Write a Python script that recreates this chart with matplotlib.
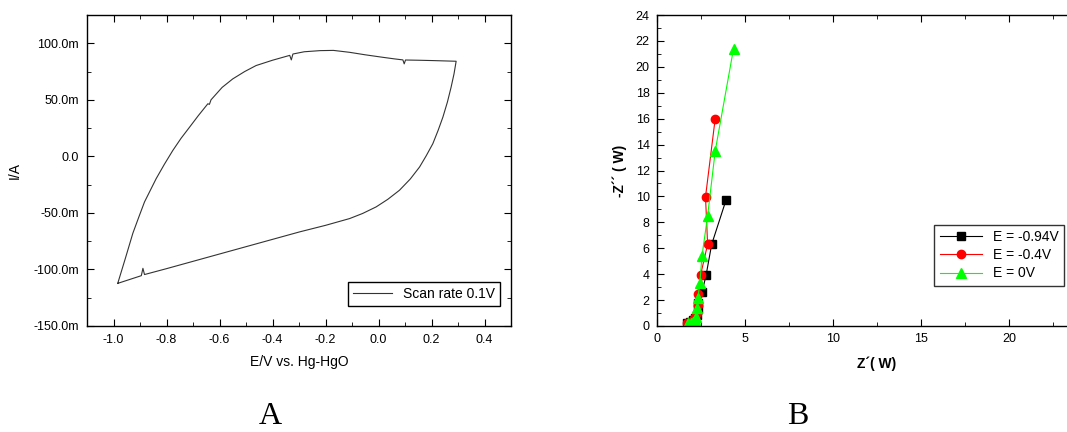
#!/usr/bin/env python3
"""
Cyclic voltammogram (A) and Nyquist plot (B), side by side.
"""

import matplotlib
matplotlib.use('Agg')
import matplotlib.pyplot as plt
from matplotlib.ticker import MultipleLocator, FixedLocator, FuncFormatter

# --- Panel A: CV loop (E in V, I in A) ---
cv_e = [-0.984, -0.955, -0.927, -0.905, -0.883, -0.861, -0.839, -0.808, -0.776,
        -0.745, -0.713, -0.680, -0.644, -0.638, -0.632, -0.590, -0.550, -0.505,
        -0.462, -0.400, -0.335, -0.329, -0.323, -0.280, -0.220, -0.170, -0.109,
        -0.050, 0.016, 0.060, 0.092, 0.097, 0.102, 0.150, 0.205, 0.293,
        0.285, 0.274, 0.260, 0.243, 0.225, 0.205, 0.180, 0.155, 0.120, 0.079,
        0.035, -0.009, -0.060, -0.109, -0.200, -0.298, -0.550, -0.800,
        -0.883, -0.889, -0.895, -0.984]
cv_i = [-0.1123, -0.090, -0.068, -0.054, -0.0403, -0.030, -0.0197, -0.007, 0.0053,
        0.016, 0.0258, 0.036, 0.0465, 0.046, 0.050, 0.061, 0.0685, 0.075,
        0.0803, 0.085, 0.0893, 0.0853, 0.0905, 0.0925, 0.0935, 0.0937, 0.092,
        0.0898, 0.0876, 0.0862, 0.0853, 0.0818, 0.0852, 0.085, 0.0847, 0.0841,
        0.073, 0.0612, 0.048, 0.0347, 0.023, 0.0112, 0.0005, -0.0094, -0.020, -0.030,
        -0.038, -0.0447, -0.0505, -0.055, -0.061, -0.0668, -0.0831, -0.0993,
        -0.1045, -0.099, -0.1055, -0.1123]
cv_label = 'Scan rate 0.1V'

# --- Panel B: Nyquist data (Z' and -Z'' in ohm) ---
series_labels = ['E = -0.94V', 'E = -0.4V', 'E = 0V']
z_re_094 = [1.70, 1.90, 2.05, 2.20, 2.26, 2.32, 2.36, 2.57, 2.80, 3.12, 3.93]
z_im_094 = [0.26, 0.30, 0.45, 0.65, 0.85, 1.30, 1.75, 2.60, 3.90, 6.30, 9.70]
z_re_04 = [1.74, 1.95, 2.08, 2.18, 2.26, 2.32, 2.36, 2.49, 2.89, 2.77, 3.32]
z_im_04 = [0.26, 0.30, 0.46, 0.70, 0.97, 1.60, 2.50, 3.93, 6.31, 9.96, 16.0]
z_re_0 = [1.79, 1.95, 2.04, 2.15, 2.23, 2.30, 2.34, 2.45, 2.57, 2.89, 3.32, 4.36]
z_im_0 = [0.20, 0.25, 0.33, 0.50, 0.72, 1.36, 2.18, 3.34, 5.40, 8.50, 13.5, 21.4]
z_major_ticks = [0, 5, 10, 15, 20]

plt.rcParams.update({
    'font.family': ['Liberation Sans', 'DejaVu Sans'],
    'font.size': 9,
    'xtick.direction': 'in', 'ytick.direction': 'in',
    'xtick.top': True, 'ytick.right': True,
    'axes.linewidth': 1.0,
})

W, H = 1067, 432
fig = plt.figure(figsize=(W / 100, H / 100), dpi=100)

# ---------------- Panel A ----------------
axA = fig.add_axes([87 / W, 1 - 326 / H, 424 / W, 311 / H])
axA.plot(cv_e, cv_i, color='#333333', linewidth=0.8, label=cv_label)
axA.set_xlim(-1.1, 0.5)
axA.set_ylim(-0.15, 0.125)
axA.xaxis.set_major_locator(MultipleLocator(0.2))
axA.xaxis.set_minor_locator(MultipleLocator(0.1))
axA.yaxis.set_major_locator(MultipleLocator(0.05))
axA.yaxis.set_minor_locator(MultipleLocator(0.025))
axA.xaxis.set_major_formatter(FuncFormatter(lambda v, p: f'{v:.1f}'))
axA.yaxis.set_major_formatter(
    FuncFormatter(lambda v, p: '0.0' if abs(v) < 1e-9 else f'{v * 1000:.1f}m'))
axA.tick_params(which='major', length=5, labelsize=9, pad=6)
axA.tick_params(which='minor', length=3)
axA.set_xlabel('E/V vs. Hg-HgO', fontsize=10, labelpad=6)
axA.set_ylabel('I/A', fontsize=10, labelpad=8)
axA.legend(loc='lower right', bbox_to_anchor=(0.974, 0.064), fontsize=10,
           frameon=True, fancybox=False, edgecolor='black', framealpha=1,
           handlelength=2.8, borderaxespad=0, borderpad=0.35)
fig.text(270 / W, 1 - 424 / H, 'A', family='Liberation Serif', fontsize=23,
         ha='center', va='baseline')

# ---------------- Panel B ----------------
# axes run past the right edge of the figure, as in the original crop
axB = fig.add_axes([656.7 / W, 1 - 326 / H, 440.5 / W, 311 / H])
axB.plot(z_re_094, z_im_094, color='black', marker='s', markersize=6,
         linewidth=0.8, label=series_labels[0])
axB.plot(z_re_04, z_im_04, color='red', marker='o', markersize=6,
         linewidth=0.8, label=series_labels[1])
axB.plot(z_re_0, z_im_0, color='#00ff00', marker='^', markersize=7,
         linewidth=0.8, label=series_labels[2])
axB.set_xlim(0, 25)
axB.set_ylim(0, 24)
axB.xaxis.set_major_locator(FixedLocator(z_major_ticks))
axB.xaxis.set_minor_locator(MultipleLocator(2.5))
axB.yaxis.set_major_locator(MultipleLocator(2))
axB.yaxis.set_minor_locator(MultipleLocator(1))
axB.tick_params(which='major', length=5, labelsize=9, pad=5)
axB.tick_params(which='minor', length=3)
axB.set_xlabel('Z\u00b4( W)', fontsize=10, fontweight='bold', labelpad=8)
axB.set_ylabel('-Z\u00b4\u00b4 ( W)', fontsize=10, fontweight='bold', labelpad=6)
axB.legend(loc='lower right', bbox_to_anchor=(0.9246, 0.1286), fontsize=10,
           frameon=True, fancybox=False, edgecolor='#333333', framealpha=1,
           handlelength=3.0, borderaxespad=0, borderpad=0.4, labelspacing=0.3)
fig.text(798 / W, 1 - 424 / H, 'B', family='Liberation Serif', fontsize=23,
         ha='center', va='baseline')

fig.savefig('out.png', dpi=100)
plt.close(fig)
